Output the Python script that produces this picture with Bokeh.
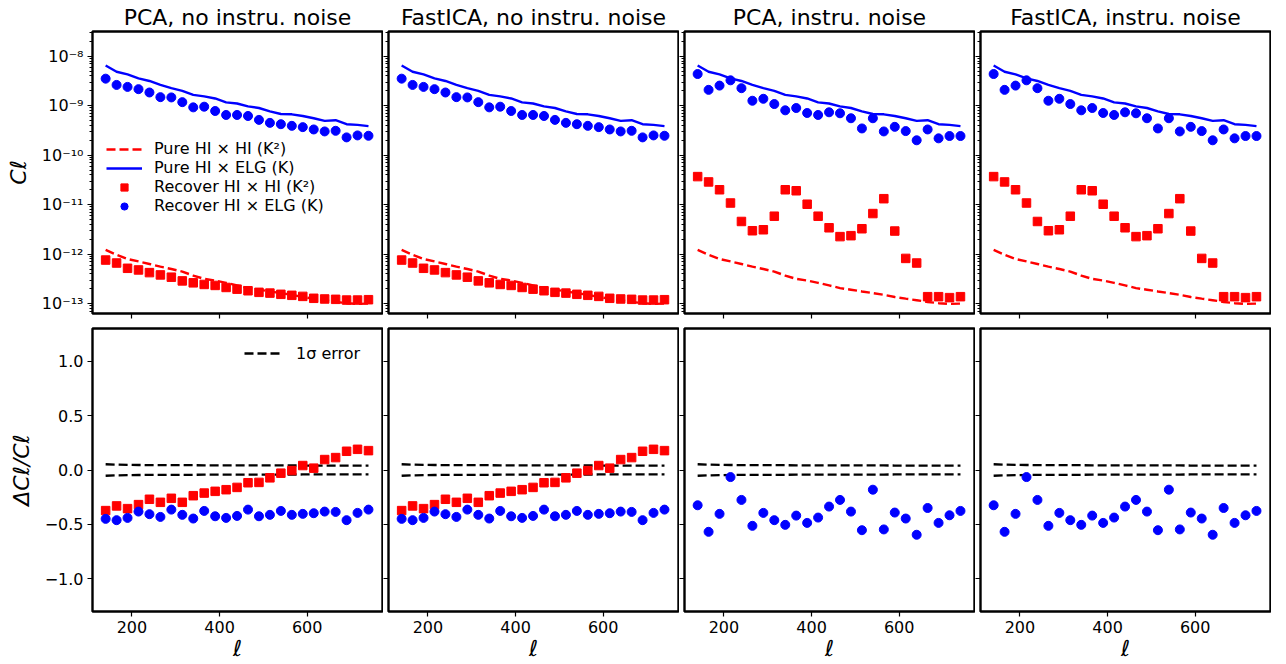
from bokeh.plotting import figure
from bokeh.layouts import row, column
from bokeh.models import (Range1d, FixedTicker, CustomJSTickFormatter, Legend,
                          LegendItem)
from bokeh.embed import file_html
from bokeh.resources import INLINE

# ---------------- data ----------------
ell = [140, 165, 190, 215, 240, 265, 290, 315, 340, 365, 390, 415, 440,
       465, 490, 515, 540, 565, 590, 615, 640, 665, 690, 715, 740]

titles = ["PCA, no instru. noise", "FastICA, no instru. noise",
          "PCA, instru. noise", "FastICA, instru. noise"]

pure_hixhi = [1.22e-12, 9.7e-13, 7.94e-13, 7.13e-13, 6.31e-13, 5.58e-13,
              5.01e-13, 4.43e-13, 3.69e-13, 3.16e-13, 2.93e-13, 2.63e-13,
              2.33e-13, 2.06e-13, 1.91e-13, 1.76e-13, 1.63e-13, 1.51e-13,
              1.36e-13, 1.26e-13, 1.17e-13, 1.08e-13, 1.02e-13, 9.85e-14,
              1.0e-13]

pure_hixelg = [6.51e-9, 4.86e-9, 4.30e-9, 3.58e-9, 3.16e-9, 2.63e-9, 2.26e-9,
               2.0e-9, 1.66e-9, 1.54e-9, 1.40e-9, 1.17e-9, 1.11e-9, 9.7e-10,
               8.98e-10, 7.7e-10, 6.8e-10, 6.7e-10, 6.2e-10, 5.58e-10,
               4.94e-10, 5.09e-10, 4.23e-10, 4.1e-10, 3.86e-10]

# recovered, no instrumental noise (PCA and FastICA)
rec_hixhi_nonoise = [7.59e-13, 6.61e-13, 5.17e-13, 4.79e-13, 4.23e-13,
                     3.80e-13, 3.42e-13, 2.88e-13, 2.63e-13, 2.44e-13,
                     2.33e-13, 2.12e-13, 1.96e-13, 1.82e-13, 1.69e-13,
                     1.63e-13, 1.54e-13, 1.47e-13, 1.40e-13, 1.28e-13,
                     1.24e-13, 1.22e-13, 1.18e-13, 1.18e-13, 1.20e-13]
rec_hixelg_nonoise = [3.52e-9, 2.63e-9, 2.40e-9, 2.16e-9, 1.85e-9, 1.49e-9,
                      1.47e-9, 1.18e-9, 9.26e-10, 9.55e-10, 7.82e-10, 6.5e-10,
                      6.5e-10, 6.2e-10, 5.17e-10, 4.5e-10, 4.23e-10, 3.92e-10,
                      3.69e-10, 3.31e-10, 3.02e-10, 3.11e-10, 2.29e-10,
                      2.51e-10, 2.47e-10]

# recovered, with instrumental noise (PCA and FastICA)
rec_hixhi_noise = [3.69e-11, 2.88e-11, 2.0e-11, 1.08e-11, 4.57e-12, 2.97e-12,
                   3.11e-12, 5.84e-12, 2.0e-11, 1.91e-11, 1.02e-11, 5.84e-12,
                   3.41e-12, 2.26e-12, 2.36e-12, 3.26e-12, 6.61e-12, 1.32e-11,
                   2.93e-12, 8.19e-13, 6.61e-13, 1.38e-13, 1.38e-13, 1.32e-13,
                   1.38e-13]
rec_hixelg_noise = [4.37e-9, 2.09e-9, 2.55e-9, 3.26e-9, 2.26e-9, 1.26e-9,
                    1.38e-9, 1.08e-9, 8.07e-10, 8.98e-10, 7.13e-10, 6.5e-10,
                    7.36e-10, 7.03e-10, 5.58e-10, 3.47e-10, 5.58e-10, 3.02e-10,
                    3.74e-10, 3.07e-10, 2.0e-10, 3.31e-10, 2.19e-10, 2.44e-10,
                    2.44e-10]

# relative errors
drel_hixhi_nonoise = [-0.373, -0.330, -0.355, -0.318, -0.269, -0.297, -0.260,
                      -0.297, -0.236, -0.212, -0.196, -0.181, -0.160, -0.117,
                      -0.114, -0.072, -0.029, -0.005, 0.041, 0.017, 0.096,
                      0.114, 0.172, 0.190, 0.178]
drel_hixelg_nonoise = [-0.449, -0.461, -0.440, -0.382, -0.406, -0.431, -0.364,
                       -0.412, -0.446, -0.376, -0.425, -0.440, -0.422, -0.364,
                       -0.425, -0.412, -0.376, -0.412, -0.403, -0.397, -0.382,
                       -0.385, -0.461, -0.394, -0.364]
drel_hixelg_noise = [-0.324, -0.568, -0.403, -0.065, -0.275, -0.513, -0.394,
                     -0.461, -0.504, -0.419, -0.486, -0.437, -0.336, -0.275,
                     -0.382, -0.553, -0.181, -0.546, -0.391, -0.446, -0.595,
                     -0.349, -0.486, -0.416, -0.376]

sigma = [0.053, 0.049, 0.047, 0.046, 0.045, 0.045, 0.044, 0.044, 0.044,
         0.043, 0.043, 0.043, 0.043, 0.042, 0.042, 0.042, 0.042, 0.042,
         0.041, 0.041, 0.041, 0.041, 0.041, 0.041, 0.041]

panels_top = [
    (rec_hixhi_nonoise, rec_hixelg_nonoise),
    (rec_hixhi_nonoise, rec_hixelg_nonoise),
    (rec_hixhi_noise, rec_hixelg_noise),
    (rec_hixhi_noise, rec_hixelg_noise),
]
panels_bot = [
    (drel_hixhi_nonoise, drel_hixelg_nonoise),
    (drel_hixhi_nonoise, drel_hixelg_nonoise),
    (None, drel_hixelg_noise),
    (None, drel_hixelg_noise),
]

x_ticks = [200, 400, 600]
log_major = [1e-13, 1e-12, 1e-11, 1e-10, 1e-9, 1e-8]
log_minor = [k * 10.0 ** n for n in range(-14, -7) for k in range(2, 10)]
lin_ticks = [-1.0, -0.5, 0.0, 0.5, 1.0]

# ---------------- styling ----------------
FONT = "DejaVu Sans"
RED = "#ff0000"
BLUE = "#0000ff"
FW = 290
TOP_FH = 282
BOT_FH = 283

log_fmt = CustomJSTickFormatter(code="""
const e = Math.round(Math.log10(tick));
const sup = {'-':'\u207b','0':'\u2070','1':'\u00b9','2':'\u00b2','3':'\u00b3',
             '4':'\u2074','5':'\u2075','6':'\u2076','7':'\u2077','8':'\u2078','9':'\u2079'};
return '10' + String(e).split('').map(c => sup[c]).join('');
""")
lin_fmt = CustomJSTickFormatter(code="""
return tick.toFixed(1).replace('-', '\u2212');
""")
blank_fmt = CustomJSTickFormatter(code="return '';")


def style_axis(ax, show_labels):
    ax.axis_line_color = None
    ax.major_tick_out = 5
    ax.major_tick_in = 0
    ax.major_tick_line_width = 1.2
    ax.major_tick_line_color = "black"
    ax.minor_tick_out = 3
    ax.minor_tick_in = 0
    ax.minor_tick_line_width = 1
    ax.minor_tick_line_color = "black"
    ax.major_label_text_font = FONT
    ax.major_label_text_color = "black"
    if show_labels:
        ax.major_label_text_font_size = "16px"
        ax.major_label_standoff = 4
    else:
        ax.major_label_text_font_size = "0px"
        ax.major_label_standoff = 0
        ax.formatter = blank_fmt
    ax.axis_label_text_font = FONT
    ax.axis_label_text_font_size = "22px"
    ax.axis_label_text_font_style = "italic"
    ax.axis_label_text_color = "black"


def make_fig(col, top):
    first = col == 0
    p = figure(
        frame_width=FW, frame_height=TOP_FH if top else BOT_FH,
        x_range=Range1d(110, 772),
        y_range=Range1d(10 ** -13.2, 10 ** -7.5) if top else Range1d(-1.3, 1.3),
        y_axis_type="log" if top else "linear",
        output_backend="svg", toolbar_location=None, tools="",
        min_border_left=92 if first else 5,
        min_border_right=1,
        min_border_top=31 if top else 7,
        min_border_bottom=8 if top else 50,
        background_fill_color="white", border_fill_color="white",
    )
    p.outline_line_color = "black"
    p.outline_line_width = 2.4
    p.outline_line_alpha = 1.0
    p.xgrid.grid_line_color = None
    p.ygrid.grid_line_color = None

    xa = p.xaxis[0]
    ya = p.yaxis[0]
    xa.ticker = FixedTicker(ticks=x_ticks)
    style_axis(xa, show_labels=not top)
    xa.minor_tick_line_color = None
    if top:
        ya.ticker = FixedTicker(ticks=log_major, minor_ticks=log_minor)
    else:
        ya.ticker = FixedTicker(ticks=lin_ticks)
    style_axis(ya, show_labels=first)
    if first:
        ya.formatter = log_fmt if top else lin_fmt
        ya.axis_label = "C\u2113" if top else "\u0394C\u2113/C\u2113"
        ya.axis_label_standoff = 8
    if not top:
        xa.formatter = CustomJSTickFormatter(code="return tick.toFixed(0);")
        xa.axis_label = "\u2113"
        xa.axis_label_standoff = 0
    if top:
        p.title.text = titles[col]
        p.title.align = "center"
        p.title.text_font = FONT
        p.title.text_font_size = "22px"
        p.title.text_font_style = "normal"
        p.title.text_color = "black"
        p.title.standoff = 3
    return p


top_figs = []
bot_figs = []
for c in range(4):
    # ---- top ----
    p = make_fig(c, True)
    r_hh, r_he = panels_top[c]
    l1 = p.line(ell, pure_hixhi, line_color=RED, line_width=2.4,
                line_dash="9 4")
    l2 = p.line(ell, pure_hixelg, line_color=BLUE, line_width=2.4)
    s1 = p.scatter(ell, r_hh, marker="square", size=8.5, fill_color=RED,
                   line_color=RED)
    s2 = p.scatter(ell, r_he, marker="circle", size=9, fill_color=BLUE,
                   line_color=BLUE)
    if c == 0:
        leg = Legend(items=[
            LegendItem(label="Pure HI \u00d7 HI (K\u00b2)", renderers=[l1]),
            LegendItem(label="Pure HI \u00d7 ELG (K)", renderers=[l2]),
            LegendItem(label="Recover HI \u00d7 HI (K\u00b2)", renderers=[s1]),
            LegendItem(label="Recover HI \u00d7 ELG (K)", renderers=[s2]),
        ], location=(14, 98))
        leg.label_text_font = FONT
        leg.label_text_font_size = "16px"
        leg.label_text_color = "black"
        leg.glyph_width = 36
        leg.glyph_height = 18
        leg.label_height = 18
        leg.label_standoff = 12
        leg.spacing = 0
        leg.padding = 0
        leg.margin = 0
        leg.border_line_alpha = 0
        leg.background_fill_alpha = 0
        p.add_layout(leg)
    top_figs.append(p)

    # ---- bottom ----
    q = make_fig(c, False)
    up = [s for s in sigma]
    dn = [-s for s in sigma]
    b1 = q.line(ell, up, line_color="black", line_width=2.3, line_dash="9 4")
    q.line(ell, dn, line_color="black", line_width=2.3, line_dash="9 4")
    d_hh, d_he = panels_bot[c]
    if d_hh is not None:
        q.scatter(ell, d_hh, marker="square", size=8.5, fill_color=RED,
                  line_color=RED)
    q.scatter(ell, d_he, marker="circle", size=9, fill_color=BLUE,
              line_color=BLUE)
    if c == 0:
        leg2 = Legend(items=[LegendItem(label="1\u03c3 error", renderers=[b1])],
                      location=(152, BOT_FH - 35))
        leg2.label_text_font = FONT
        leg2.label_text_font_size = "16px"
        leg2.label_text_color = "black"
        leg2.glyph_width = 36
        leg2.glyph_height = 20
        leg2.label_height = 20
        leg2.label_standoff = 16
        leg2.padding = 0
        leg2.margin = 0
        leg2.border_line_alpha = 0
        leg2.background_fill_alpha = 0
        q.add_layout(leg2)
    bot_figs.append(q)

layout = column(row(*top_figs), row(*bot_figs))

with open("out.html", "w", encoding="utf-8") as f:
    f.write(file_html(layout, INLINE))
